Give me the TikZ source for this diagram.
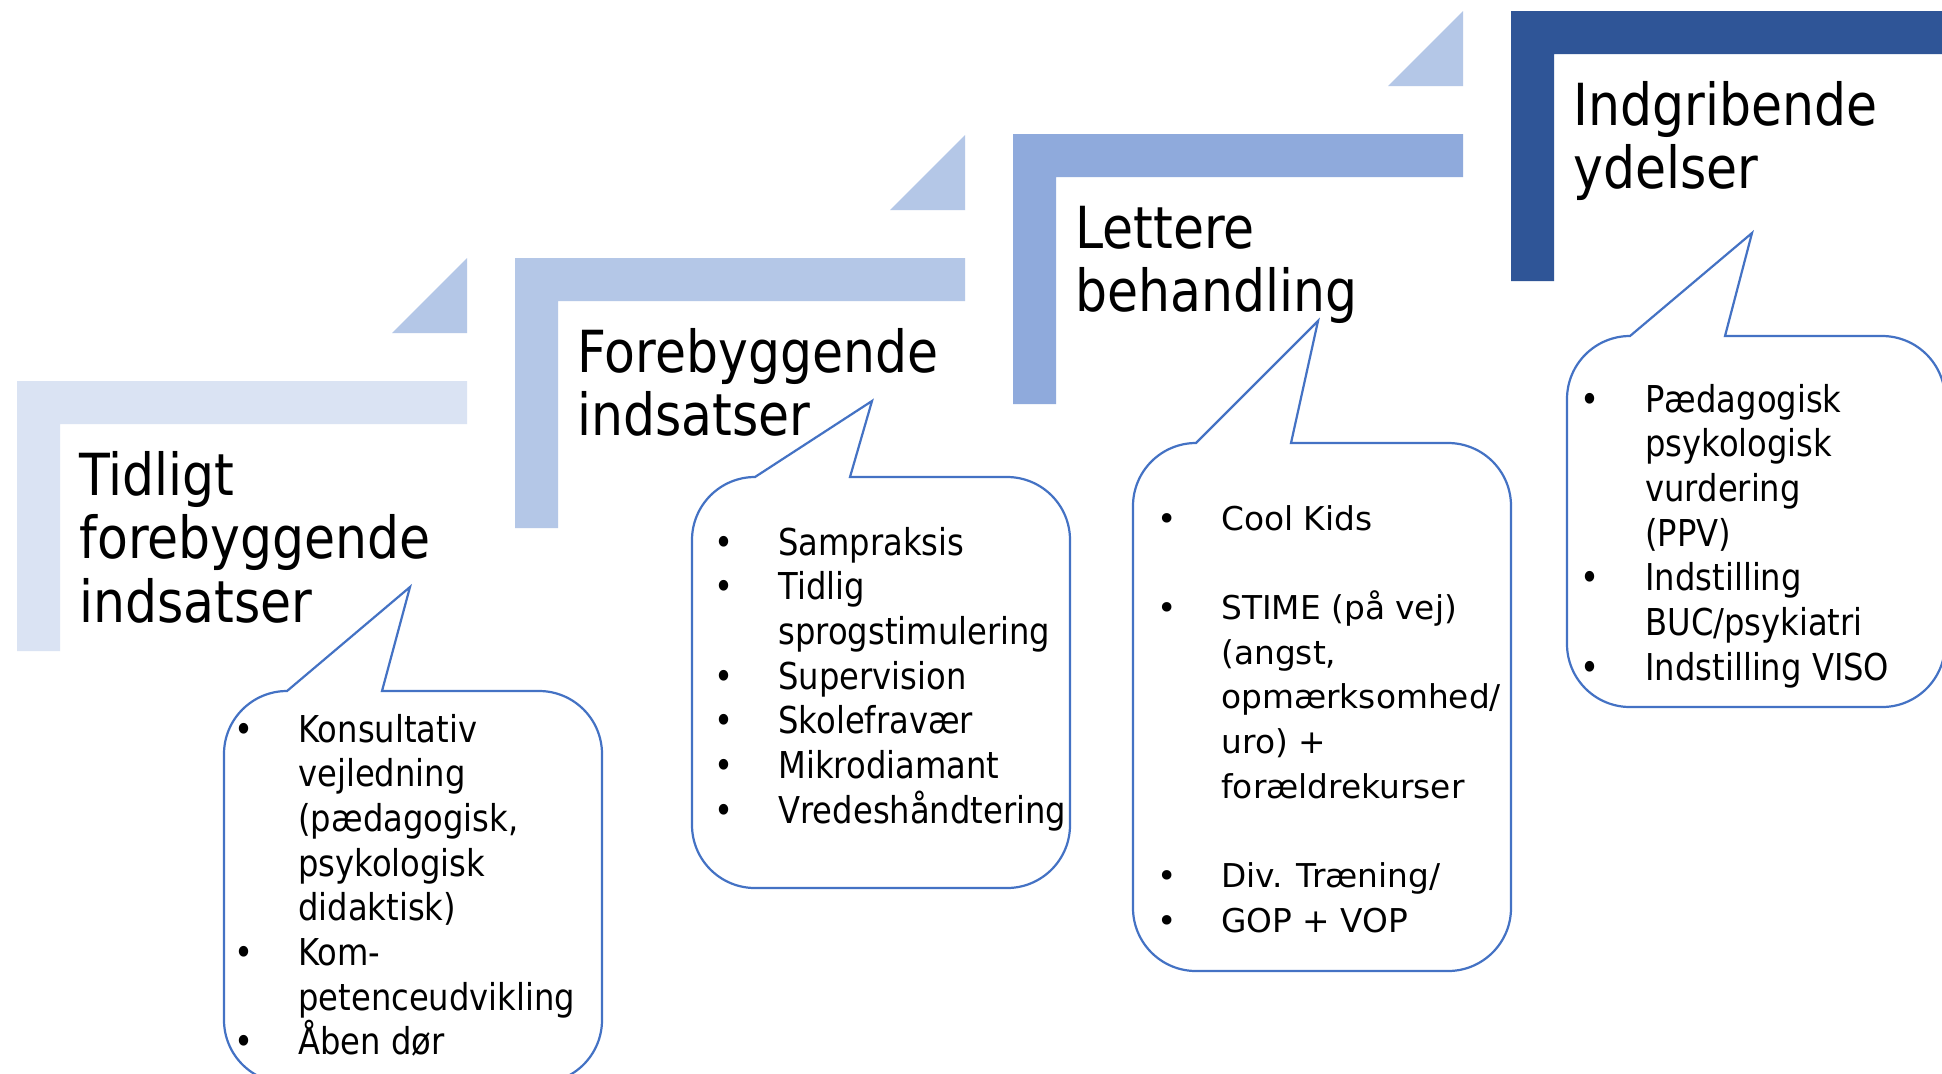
\documentclass[tikz,border=0pt]{standalone}
\usepackage{fontspec}
\newfontfamily\tfont{DejaVu Sans}[FakeStretch=0.87]
\newfontfamily\vfont{DejaVu Sans}
\definecolor{stepA}{HTML}{DAE3F3}
\definecolor{stepB}{HTML}{B4C7E7}
\definecolor{stepC}{HTML}{8FAADC}
\definecolor{stepD}{HTML}{2F5597}
\definecolor{calloutline}{HTML}{4472C4}
\tikzset{
  titletext/.style={font=\tfont\fontsize{29pt}{31.75pt}\selectfont, inner sep=0pt, anchor=base west, text=black},
  ctext/.style={font=\tfont\fontsize{18.5pt}{22pt}\selectfont, inner sep=0pt, anchor=base west, text=black},
  cbul/.style={ctext, anchor=base},
  vtext/.style={font=\vfont\fontsize{16.4pt}{22pt}\selectfont, inner sep=0pt, anchor=base west, text=black},
  vbul/.style={vtext, anchor=base},
  callshape/.style={draw=calloutline, line width=1.1pt, fill=white, line join=miter},
  tri/.style={fill=stepB},
}
\newcommand\drawcallout[5]{%
  \draw[callshape] ({#1+63},#2) -- ({#1+#4},{#2-#5}) -- ({#1+158},#2) -- ({#1+315},#2)
    .. controls ({#1+349.8},#2) and ({#1+378},{#2+28.2}) .. ({#1+378},{#2+63})
    -- ({#1+378},{#3-63})
    .. controls ({#1+378},{#3-28.2}) and ({#1+349.8},#3) .. ({#1+315},#3)
    -- ({#1+63},#3)
    .. controls ({#1+28.2},#3) and (#1,{#3-28.2}) .. (#1,{#3-63})
    -- (#1,{#2+63})
    .. controls (#1,{#2+28.2}) and ({#1+28.2},#2) .. ({#1+63},#2) -- cycle;}
\begin{document}
\begin{tikzpicture}[x=0.5pt, y=-0.5pt]
\useasboundingbox (0,0) rectangle (1942,1073);
\clip (0,0) rectangle (1942,1073);
\fill[white] (0,0) rectangle (1942,1073);
% steps
\foreach \sx/\sy/\sc in {17/381/stepA, 515/258/stepB, 1013/134/stepC, 1511/11/stepD}{
  \fill[\sc] (\sx,\sy) -- ++(450,0) -- ++(0,43) -- ++(-407,0) -- ++(0,227) -- ++(-43,0) -- cycle;
}
% triangles
\foreach \sx/\sy in {17/381, 515/258, 1013/134}{
  \fill[tri] ({\sx+375},{\sy-48}) -- ({\sx+450},{\sy-48}) -- ({\sx+450},{\sy-123}) -- cycle;
}
% titles
\node[titletext] (t1a) at (79,495) {Tidligt};
\node[titletext] (t1b) at (79,558.5) {forebyggende};
\node[titletext] (t1c) at (79,622) {indsatser};
\node[titletext] (t2a) at (577,372) {Forebyggende};
\node[titletext] (t2b) at (577,435.5) {indsatser};
\node[titletext] (t3a) at (1075,248) {Lettere};
\node[titletext] (t3b) at (1075,311.5) {behandling};
\node[titletext] (t4a) at (1573,125) {Indgribende};
\node[titletext] (t4b) at (1573,188.5) {ydelser};
% callouts
\drawcallout{224}{691}{1083}{186}{104}
\drawcallout{692}{477}{888}{180}{76}
\drawcallout{1133}{443}{971}{185}{122}
\drawcallout{1567}{336}{707}{185}{103}
% callout 1 text
\foreach \ln/\bl/\tx in {0/1/Konsultativ, 1/0/vejledning, 2/0/{(pædagogisk,}, 3/0/psykologisk, 4/0/{didaktisk)}, 5/1/Kom-, 6/0/petenceudvikling, 7/1/{Åben dør}}{
  \node[ctext] (a\ln) at (298,{742+44.7*\ln}) {\tx};
  \ifnum\bl=1 \node[cbul] (ab\ln) at (244,{742+44.7*\ln}) {•};\fi
}
% callout 2 text
\foreach \ln/\bl/\tx in {0/1/Sampraksis, 1/1/Tidlig, 2/0/sprogstimulering, 3/1/Supervision, 4/1/Skolefravær, 5/1/Mikrodiamant, 6/1/Vredeshåndtering}{
  \node[ctext] (b\ln) at (778,{555+44.7*\ln}) {\tx};
  \ifnum\bl=1 \node[cbul] (bb\ln) at (724,{555+44.7*\ln}) {•};\fi
}
% callout 3 text
\foreach \ln/\bl/\tx in {0/1/{Cool Kids}, 2/1/{STIME (på vej)}, 3/0/{(angst,}, 4/0/{opmærksomhed/}, 5/0/{uro) +}, 6/0/forældrekurser, 8/1/{Div. Træning/}, 9/1/{GOP + VOP}}{
  \node[vtext] (c\ln) at (1221,{530+44.7*\ln}) {\tx};
  \ifnum\bl=1 \node[vbul] (cb\ln) at (1167,{530+44.7*\ln}) {•};\fi
}
% callout 4 text
\foreach \ln/\bl/\tx in {0/1/Pædagogisk, 1/0/psykologisk, 2/0/vurdering, 3/0/{(PPV)}, 4/1/Indstilling, 5/0/{BUC/psykiatri}, 6/1/{Indstilling VISO}}{
  \node[ctext] (d\ln) at (1645,{412+44.7*\ln}) {\tx};
  \ifnum\bl=1 \node[cbul] (db\ln) at (1590,{412+44.7*\ln}) {•};\fi
}
\end{tikzpicture}
\end{document}
